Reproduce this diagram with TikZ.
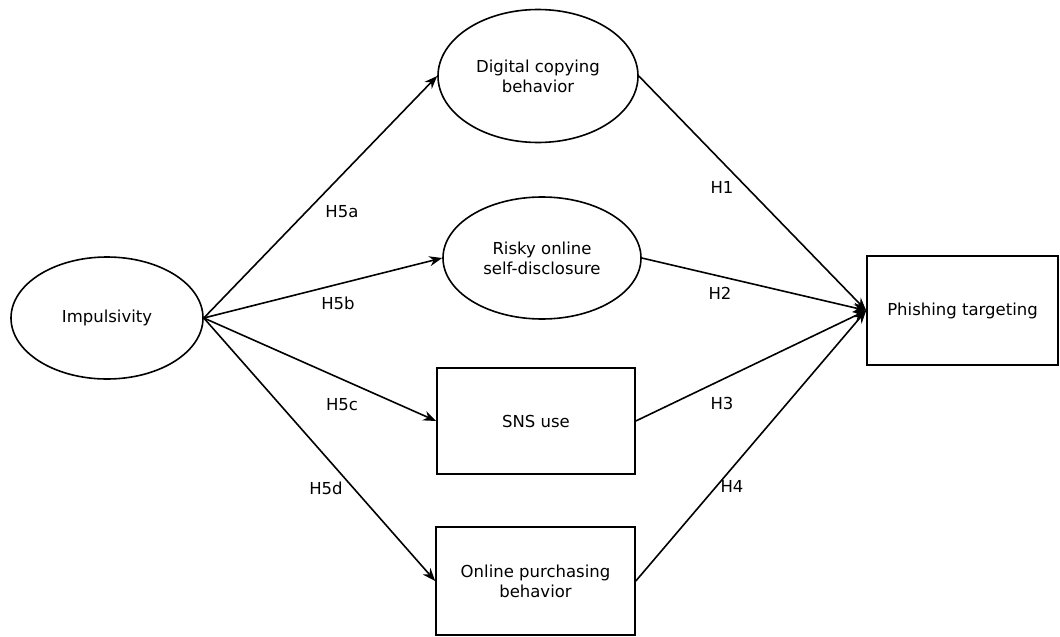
\documentclass[tikz,border=0pt]{standalone}
\usepackage{fontspec}
\setmainfont{DejaVu Sans}
\usetikzlibrary{shapes.geometric,arrows.meta}

\begin{document}
\begin{tikzpicture}[x=10pt,y=-10pt,>={Stealth[length=13pt,width=10pt]},line width=1.6pt]
  \tikzset{
    latent/.style={ellipse,draw=black,inner sep=0pt,align=center,font=\fontsize{16.5}{20}\selectfont},
    observed/.style={rectangle,draw=black,inner sep=0pt,align=center,font=\fontsize{16.5}{20}\selectfont},
    hyp/.style={font=\fontsize{16.5}{20}\selectfont}
  }
  \useasboundingbox (0,0) rectangle (106,63.7);
  \node[latent,minimum width=192pt,minimum height=122pt] (imp) at (10.7,31.8) {Impulsivity};
  \node[latent,minimum width=200pt,minimum height=133pt] (dig) at (53.8,7.6) {Digital copying\\behavior};
  \node[latent,minimum width=198pt,minimum height=122pt] (risk) at (54.2,25.8) {Risky online\\self-disclosure};
  \node[observed,minimum width=198pt,minimum height=106pt] (sns) at (53.6,42.1) {SNS use};
  \node[observed,minimum width=199pt,minimum height=108pt] (buy) at (53.55,58.1) {Online purchasing\\behavior};
  \node[observed,minimum width=191pt,minimum height=109pt] (phish) at (96.25,31.05) {Phishing targeting};
  \draw[->] (imp.east) -- (dig.west);
  \draw[->] (imp.east) -- (risk.west);
  \draw[->] (imp.east) -- (sns.west);
  \draw[->] (imp.east) -- (buy.west);
  \draw[->] (dig.east) -- (phish.west);
  \draw[->] (risk.east) -- (phish.west);
  \draw[->] (sns.east) -- (phish.west);
  \draw[->] (buy.east) -- (phish.west);
  \node[hyp] (h5a) at (34.2,21.2) {H5a};
  \node[hyp] (h5b) at (33.8,30.3) {H5b};
  \node[hyp] (h5c) at (34.2,40.5) {H5c};
  \node[hyp] (h5d) at (32.6,48.8) {H5d};
  \node[hyp] (h1) at (72.2,18.7) {H1};
  \node[hyp] (h2) at (72.0,29.3) {H2};
  \node[hyp] (h3) at (72.2,40.3) {H3};
  \node[hyp] (h4) at (73.2,48.6) {H4};
\end{tikzpicture}
\end{document}
